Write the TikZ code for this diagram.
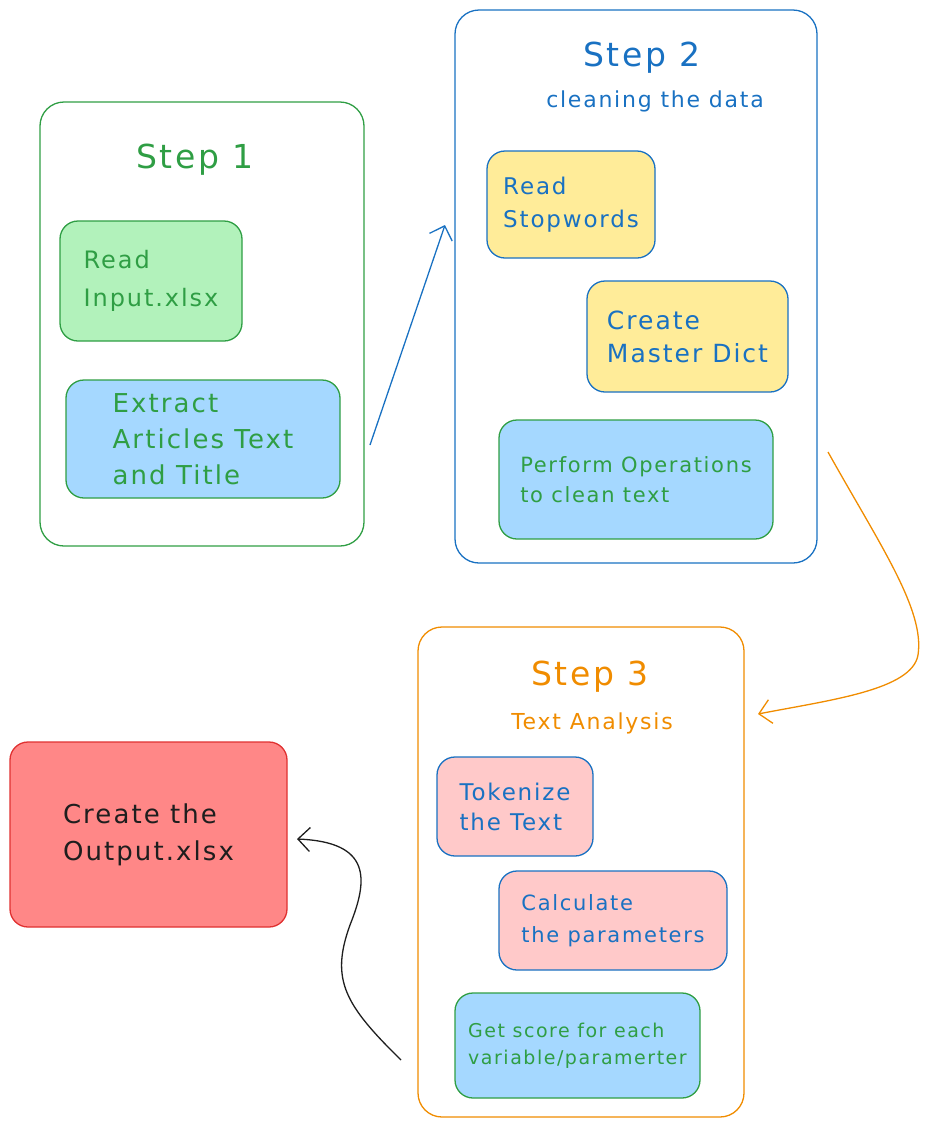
\documentclass[tikz,border=0pt]{standalone}
\usepackage{fontspec}
\setmainfont{DejaVu Sans}[LetterSpace=8]
\usetikzlibrary{arrows.meta}

\definecolor{sgreen}{HTML}{2F9E44}
\definecolor{sblue}{HTML}{1971C2}
\definecolor{sorange}{HTML}{F08C00}
\definecolor{sred}{HTML}{E03131}
\definecolor{fgreen}{HTML}{B2F2BB}
\definecolor{fblue}{HTML}{A5D8FF}
\definecolor{fyellow}{HTML}{FFEC99}
\definecolor{fpink}{HTML}{FFC9C9}
\definecolor{fred}{HTML}{FF8787}
\definecolor{ink}{HTML}{1E1E1E}

\newcommand{\fsz}[2]{\fontsize{#1}{#2}\selectfont}

\tikzset{
  stepframe/.style={draw, rounded corners=24pt, line width=1.3pt},
  steptitle/.style={font=\fsz{33}{36}},
  stepsub/.style={font=\fsz{22}{26}},
  card/.style={draw, rounded corners=18pt, line width=1.3pt, align=left,
    inner sep=0pt, font=\fsz{25}{36}},
  flow/.style={line width=1.3pt, -{Straight Barb[length=12pt,width=24pt]}}
}

\begin{document}
\begin{tikzpicture}[x=1pt, y=-1pt]
        \useasboundingbox (0,0) rectangle (931,1128);

        % step 1
        \node [stepframe, draw=sgreen, minimum width=324pt, minimum height=444pt] (frameone) at (202,324) {};
        \node [steptitle, text=sgreen] (titleone) at (195,160) {Step 1};
        \node [card, draw=sgreen, fill=fgreen, text=sgreen, minimum width=182pt, minimum height=120pt,
          font=\fsz{24}{38}] (readinput) at (151,281) {Read\\Input.xlsx};
        \node [card, draw=sgreen, fill=fblue, text=sgreen, minimum width=274pt, minimum height=118pt,
          font=\fsz{26}{36}] (extract) at (203,439) {Extract\\Articles Text\\and Title};

        % step 2
        \node [stepframe, draw=sblue, minimum width=362pt, minimum height=553pt] (frametwo) at (636,286.5) {};
        \node [steptitle, text=sblue] (titletwo) at (642,58) {Step 2};
        \node [stepsub, text=sblue] (subtwo) at (655,101) {cleaning the data};
        \node [card, draw=sblue, fill=fyellow, text=sblue, minimum width=168pt, minimum height=107pt,
          font=\fsz{23}{33}] (stopwords) at (571,204.5) {Read\\Stopwords};
        \node [card, draw=sblue, fill=fyellow, text=sblue, minimum width=201pt, minimum height=111pt,
          font=\fsz{25}{33}] (masterdict) at (687.5,336.5) {Create\\Master Dict};
        \node [card, draw=sgreen, fill=fblue, text=sgreen, minimum width=274pt, minimum height=119pt,
          font=\fsz{21}{30}] (operations) at (636,479.5) {Perform Operations\\to clean text};

        % step 3
        \node [stepframe, draw=sorange, minimum width=326pt, minimum height=490pt] (framethree) at (581,872) {};
        \node [steptitle, text=sorange] (titlethree) at (590,677) {Step 3};
        \node [stepsub, text=sorange] (subthree) at (592,723) {Text Analysis};
        \node [card, draw=sblue, fill=fpink, text=sblue, minimum width=156pt, minimum height=99pt,
          font=\fsz{23}{30}] (tokenize) at (515,806.5) {Tokenize\\the Text};
        \node [card, draw=sblue, fill=fpink, text=sblue, minimum width=228pt, minimum height=99pt,
          font=\fsz{21}{32}] (calculate) at (613,920.5) {Calculate\\the parameters};
        \node [card, draw=sgreen, fill=fblue, text=sgreen, minimum width=245pt, minimum height=105pt,
          font=\fsz{19}{27}] (getscore) at (577.5,1045.5) {Get score for each\\variable/paramerter};

        % output
        \node [card, draw=sred, fill=fred, text=ink, minimum width=277pt, minimum height=185pt,
          font=\fsz{26}{37}] (output) at (148.5,834.5) {Create the\\Output.xlsx};

        % arrows
        \coordinate (onestart) at (370,445);
        \coordinate (oneend) at (445,225);
        \coordinate (twostart) at (828,452);
        \coordinate (twoturn) at (918,655);
        \coordinate (twoend) at (758,714);
        \coordinate (threestart) at (401,1060);
        \coordinate (threeturn) at (350,925);
        \coordinate (threeend) at (297,839);

        \draw [flow, draw=sblue] (onestart) -- (oneend);
        \draw [flow, draw=sorange] (twostart) .. controls (880,545) and (925,610) .. (twoturn)
          .. controls (912,690) and (830,700) .. (twoend);
        \draw [flow, draw=ink] (threestart) .. controls (345,1005) and (330,980) .. (threeturn)
          .. controls (368,880) and (372,842) .. (threeend);
\end{tikzpicture}
\end{document}
